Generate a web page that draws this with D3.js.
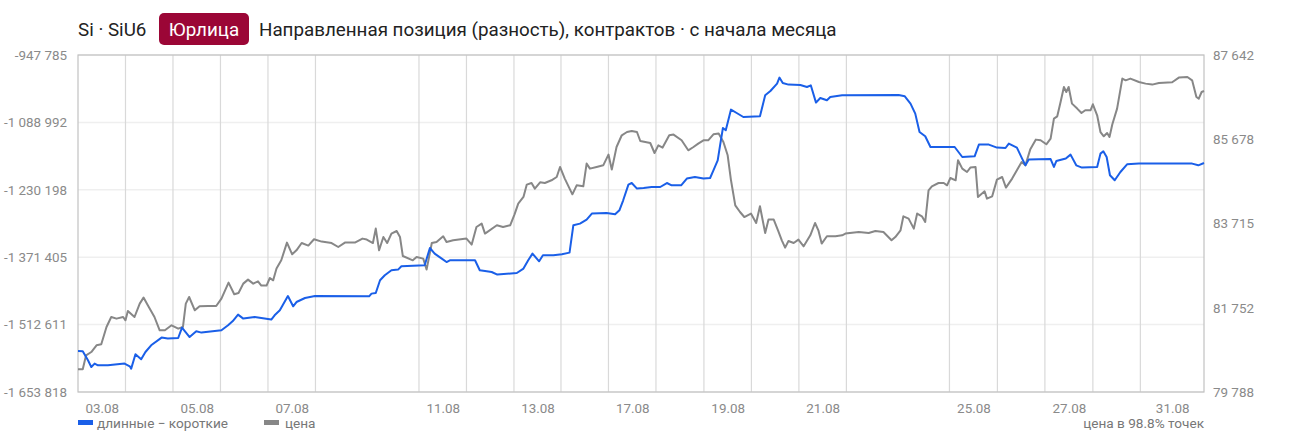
<!DOCTYPE html>
<html>
<head>
<meta charset="utf-8">
<script src="https://cdn.jsdelivr.net/npm/d3@7"></script>
<style>
  body { margin: 0; background: #fff; font-family: Roboto, "Noto Sans", sans-serif; }
  svg text { font-family: Roboto, "Noto Sans", sans-serif; }
</style>
</head>
<body>
<svg id="chart"></svg>
<script>
// trading days (x axis), start of each session in "session units" since 03.08
var days = ['03.08','04.08','05.08','06.08','07.08','10.08','11.08','12.08','13.08','14.08',
            '17.08','18.08','19.08','20.08','21.08','24.08','25.08','26.08','27.08','28.08','31.08']
var dayStarts = [0, 1, 2, 3, 4, 5, 7.18, 8.18, 9.18, 10.17, 11.17, 12.17, 13.18, 14.18, 15.18,
                 16.18, 18.35, 19.36, 20.36, 21.37, 22.37]
var timeEnd = 23.71

var leftTicks = [-947785, -1088992, -1230198, -1371405, -1512611, -1653818]
var rightTicks = [87642, 85678, 83715, 81752, 79788]

// net position (long - short), contracts: [time, value]
var netPosition = [
  [0,-1568000],[0.10,-1568500],[0.21,-1587400],[0.28,-1601400],[0.35,-1594300],[0.42,-1597900],
  [0.63,-1597900],[0.98,-1594300],[1.09,-1600000],[1.12,-1604800],[1.21,-1574800],[1.33,-1585300],
  [1.42,-1570000],[1.54,-1556000],[1.76,-1539800],[1.89,-1541900],[2.11,-1540700],[2.19,-1518900],
  [2.35,-1538600],[2.49,-1526600],[2.60,-1529400],[3.02,-1524600],[3.16,-1514100],[3.26,-1505100],
  [3.37,-1491700],[3.48,-1500000],[3.72,-1496700],[4.07,-1502100],[4.14,-1493100],[4.25,-1482700],
  [4.42,-1452700],[4.53,-1474300],[4.60,-1465300],[4.78,-1456900],[4.99,-1452700],[6.13,-1453300],
  [6.18,-1447700],[6.27,-1446400],[6.36,-1419800],[6.46,-1409300],[6.60,-1398800],[6.74,-1397400],
  [6.81,-1390500],[7.30,-1388400],[7.41,-1352100],[7.51,-1363900],[7.66,-1374300],[7.76,-1381500],
  [7.83,-1377900],[8.36,-1377900],[8.46,-1398800],[8.57,-1400300],[8.71,-1402400],[8.83,-1407900],
  [9.24,-1404500],[9.38,-1395300],[9.48,-1377900],[9.57,-1363900],[9.71,-1380000],[9.79,-1367400],
  [10.01,-1367400],[10.19,-1365300],[10.35,-1361800],[10.43,-1304600],[10.57,-1301000],[10.71,-1292600],
  [10.82,-1280100],[11.13,-1278800],[11.31,-1281500],[11.40,-1273100],[11.48,-1252200],[11.59,-1219300],
  [11.66,-1216000],[11.77,-1227700],[11.91,-1226400],[12.08,-1224300],[12.26,-1224300],[12.40,-1216000],
  [12.50,-1220800],[12.70,-1220800],[12.82,-1206700],[12.99,-1203400],[13.17,-1206700],[13.31,-1205500],
  [13.38,-1189300],[13.47,-1168400],[13.52,-1137000],[13.58,-1100700],[13.64,-1105500],[13.75,-1062200],
  [13.87,-1069300],[14.01,-1077700],[14.36,-1076200],[14.47,-1032200],[14.58,-1023200],[14.72,-1007700],
  [14.77,-995100],[14.84,-1006400],[14.96,-1009800],[15.21,-1010600],[15.35,-1014800],[15.43,-1011300],
  [15.54,-1047500],[15.63,-1037900],[15.77,-1042700],[15.84,-1035800],[16.09,-1032200],[17.28,-1031600],
  [17.41,-1034300],[17.53,-1049600],[17.63,-1070600],[17.72,-1109100],[17.84,-1118100],[17.95,-1140500],
  [18.26,-1140500],[18.46,-1140500],[18.62,-1161500],[18.88,-1160000],[18.97,-1135500],[19.18,-1135500],
  [19.35,-1141800],[19.53,-1142600],[19.60,-1133400],[19.77,-1141800],[19.88,-1164800],[19.95,-1178900],
  [20.02,-1166900],[20.23,-1166300],[20.48,-1165700],[20.55,-1182400],[20.60,-1169900],[20.80,-1164800],
  [20.90,-1156500],[21.02,-1178900],[21.14,-1183700],[21.46,-1182400],[21.53,-1154400],[21.59,-1149500],
  [21.66,-1161500],[21.73,-1199800],[21.83,-1210300],[21.95,-1192900],[22.09,-1176800],[22.34,-1175300],
  [23.46,-1175300],[23.59,-1178900],[23.71,-1174100]
]

// price, rub: [time, value]
var price = [
  [0,80317],[0.10,80317],[0.17,80643],[0.28,80720],[0.39,80876],[0.49,80899],[0.60,81303],[0.70,81536],
  [0.81,81498],[0.95,81536],[1.00,81459],[1.05,81676],[1.19,81536],[1.30,81848],[1.38,81988],[1.47,81808],
  [1.61,81536],[1.72,81226],[1.83,81226],[1.97,81342],[2.11,81265],[2.21,81303],[2.27,81848],[2.34,82002],
  [2.46,81692],[2.56,81785],[2.74,81792],[2.91,81792],[3.02,81965],[3.17,82338],[3.29,82065],[3.38,82095],
  [3.48,82314],[3.58,82407],[3.69,82314],[3.79,82368],[3.86,82268],[3.97,82268],[4.04,82445],[4.11,82391],
  [4.18,82664],[4.28,82857],[4.40,83270],[4.51,82997],[4.60,83090],[4.71,83260],[4.85,83200],[4.97,83347],
  [5.13,83293],[5.34,83260],[5.48,83167],[5.62,83270],[5.83,83270],[5.99,83363],[6.08,83340],[6.21,83260],
  [6.27,83596],[6.34,83090],[6.43,83400],[6.51,83260],[6.60,83480],[6.71,83540],[6.78,83400],[6.84,82957],
  [7.05,82857],[7.13,82934],[7.27,82897],[7.34,82641],[7.45,83260],[7.55,83284],[7.69,83417],[7.76,83284],
  [7.90,83323],[8.18,83363],[8.29,83223],[8.39,83633],[8.50,83713],[8.57,83480],[8.82,83673],[8.95,83633],
  [9.10,83673],[9.19,83922],[9.27,84179],[9.38,84333],[9.45,84622],[9.55,84659],[9.62,84528],[9.73,84675],
  [9.83,84659],[9.97,84722],[10.08,84799],[10.15,85032],[10.25,84761],[10.41,84395],[10.50,84605],[10.64,84582],
  [10.71,85111],[10.78,84994],[10.92,85032],[11.06,85071],[11.17,85321],[11.24,84971],[11.34,85498],[11.45,85771],
  [11.56,85847],[11.66,85871],[11.77,85847],[11.84,85638],[12.05,85591],[12.14,85358],[12.22,85537],[12.31,85484],
  [12.45,85771],[12.54,85787],[12.71,85654],[12.85,85421],[12.96,85498],[13.06,85577],[13.17,85654],[13.27,85654],
  [13.38,85794],[13.49,85810],[13.59,85614],[13.68,85304],[13.75,84722],[13.84,84139],[13.94,83983],[14.03,83866],
  [14.17,83946],[14.28,83727],[14.36,84116],[14.47,83493],[14.54,83806],[14.65,83806],[14.74,83556],[14.82,83323],
  [14.89,83153],[14.96,83307],[15.07,83260],[15.17,83340],[15.28,83183],[15.42,83440],[15.52,83727],[15.59,83556],
  [15.66,83247],[15.77,83417],[15.95,83417],[16.09,83440],[16.16,83480],[16.44,83517],[16.65,83493],[16.79,83540],
  [16.96,83517],[17.13,83323],[17.21,83400],[17.32,83556],[17.38,83883],[17.49,83829],[17.60,83596],[17.67,83946],
  [17.77,83883],[17.84,83750],[17.91,84489],[17.98,84582],[18.12,84659],[18.23,84659],[18.30,84605],[18.37,84775],
  [18.48,84722],[18.53,85188],[18.62,84994],[18.72,84915],[18.79,85018],[18.90,85032],[18.95,84333],[19.09,84465],
  [19.14,84295],[19.25,84349],[19.35,84738],[19.46,84799],[19.54,84552],[19.67,84761],[19.77,84955],[19.87,85148],
  [19.95,85071],[20.05,85437],[20.17,85670],[20.27,85654],[20.39,85561],[20.48,85694],[20.55,86160],[20.62,86213],
  [20.69,86547],[20.76,86896],[20.81,86780],[20.86,86896],[20.93,86509],[21.04,86393],[21.13,86290],[21.21,86353],
  [21.32,86353],[21.37,86493],[21.46,86237],[21.53,85847],[21.60,85747],[21.67,85824],[21.72,85731],[21.78,86027],
  [21.88,86393],[21.99,87092],[22.06,87052],[22.16,87092],[22.34,87013],[22.48,86975],[22.62,86952],[22.76,86989],
  [23.04,87006],[23.18,87115],[23.36,87129],[23.46,87052],[23.55,86663],[23.60,86626],[23.66,86780],[23.71,86803]
]

var outerWidth = 1290, outerHeight = 448
var margins = { top: 55, bottom: 56, left: 78, right: 86 }
var innerWidth = outerWidth - margins.left - margins.right
var innerHeight = outerHeight - margins.top - margins.bottom

var blue = '#1a5fe8', grey = '#878787', labelColor = '#8a8a8a'

var ru = d3.formatLocale({ decimal: ',', thousands: '\u00a0', grouping: [3], currency: ['', ''], minus: '-' })
var fmt = ru.format(',d')

var svg = d3.select('#chart').attr('width', outerWidth).attr('height', outerHeight)
    .style('display', 'block')

// title
var title = svg.append('g').attr('transform', 'translate(78,29)')
title.append('text').attr('x', 0).attr('dy', '0.35em')
    .style('font-size', '18.8px').style('fill', '#222').text('Si · SiU6')
title.append('rect').attr('x', 81).attr('y', -16).attr('width', 90).attr('height', 32).attr('rx', 5)
    .style('fill', '#9b0636')
title.append('text').attr('x', 126).attr('dy', '0.35em').attr('text-anchor', 'middle')
    .style('font-size', '18.8px').style('fill', '#fff').text('Юрлица')
title.append('text').attr('x', 181).attr('dy', '0.35em')
    .style('font-size', '18.8px').style('fill', '#222')
    .text('Направленная позиция (разность), контрактов · с начала месяца')

var x = d3.scaleLinear().domain([0, timeEnd]).range([0, innerWidth])
var yLeft = d3.scaleLinear().domain([d3.min(leftTicks), d3.max(leftTicks)]).range([innerHeight, 0])
var yRight = d3.scaleLinear().domain([d3.min(rightTicks), d3.max(rightTicks)]).range([innerHeight, 0])

var plot = svg.append('g').attr('transform', 'translate(' + margins.left + ',' + margins.top + ')')

// horizontal grid
plot.append('g').selectAll('line').data(leftTicks).enter().append('line')
    .attr('x1', 0).attr('x2', innerWidth)
    .attr('y1', function(d) { return yLeft(d) }).attr('y2', function(d) { return yLeft(d) })
    .style('stroke', '#efefef').style('stroke-width', 1.5)

// vertical grid at session starts
plot.append('g').selectAll('line').data(dayStarts.slice(1)).enter().append('line')
    .attr('x1', function(d) { return x(d) }).attr('x2', function(d) { return x(d) })
    .attr('y1', 0).attr('y2', innerHeight)
    .style('stroke', '#d9d9d9').style('stroke-width', 1.2)

plot.append('rect').attr('width', innerWidth).attr('height', innerHeight)
    .style('fill', 'none').style('stroke', '#c2c2c2').style('stroke-width', 1.2)

// axes
var leftAxis = plot.append('g')
    .call(d3.axisLeft(yLeft).tickValues(leftTicks).tickSize(0).tickPadding(11).tickFormat(fmt))
var rightAxis = plot.append('g').attr('transform', 'translate(' + innerWidth + ',0)')
    .call(d3.axisRight(yRight).tickValues(rightTicks).tickSize(0).tickPadding(9).tickFormat(fmt))

var dayCenters = days.map(function(d, i) {
    var end = i < days.length - 1 ? dayStarts[i + 1] : timeEnd
    return (dayStarts[i] + end) / 2
})
var bottomAxis = plot.append('g').attr('transform', 'translate(0,' + innerHeight + ')')
    .call(d3.axisBottom(x).tickValues(dayCenters.filter(function(d, i) { return i % 2 === 0 }))
        .tickSize(0).tickPadding(11)
        .tickFormat(function(d) { return days[dayCenters.indexOf(d)] }))

;[leftAxis, rightAxis, bottomAxis].forEach(function(a) {
    a.select('.domain').remove()
    a.selectAll('text').style('font-size', '13.4px').style('fill', labelColor)
})

// series
var lineLeft = d3.line().x(function(d) { return x(d[0]) }).y(function(d) { return yLeft(d[1]) })
var lineRight = d3.line().x(function(d) { return x(d[0]) }).y(function(d) { return yRight(d[1]) })

plot.append('path').datum(price).attr('d', lineRight)
    .style('fill', 'none').style('stroke', grey).style('stroke-width', 2).style('stroke-linejoin', 'round')
plot.append('path').datum(netPosition).attr('d', lineLeft)
    .style('fill', 'none').style('stroke', blue).style('stroke-width', 2).style('stroke-linejoin', 'round')

// legend
var legend = svg.append('g').attr('transform', 'translate(78,423)')
legend.append('rect').attr('x', 0).attr('y', -3).attr('width', 15).attr('height', 5).style('fill', blue)
legend.append('text').attr('x', 19).attr('dy', '0.35em').style('font-size', '13.6px').style('fill', '#777')
    .text('длинные − короткие')
legend.append('rect').attr('x', 186).attr('y', -3).attr('width', 15).attr('height', 5).style('fill', grey)
legend.append('text').attr('x', 207).attr('dy', '0.35em').style('font-size', '13.6px').style('fill', '#777')
    .text('цена')
legend.append('text').attr('x', innerWidth).attr('dy', '0.35em').attr('text-anchor', 'end')
    .style('font-size', '13.6px').style('fill', '#777').text('цена в 98.8% точек')
</script>
</body>
</html>
